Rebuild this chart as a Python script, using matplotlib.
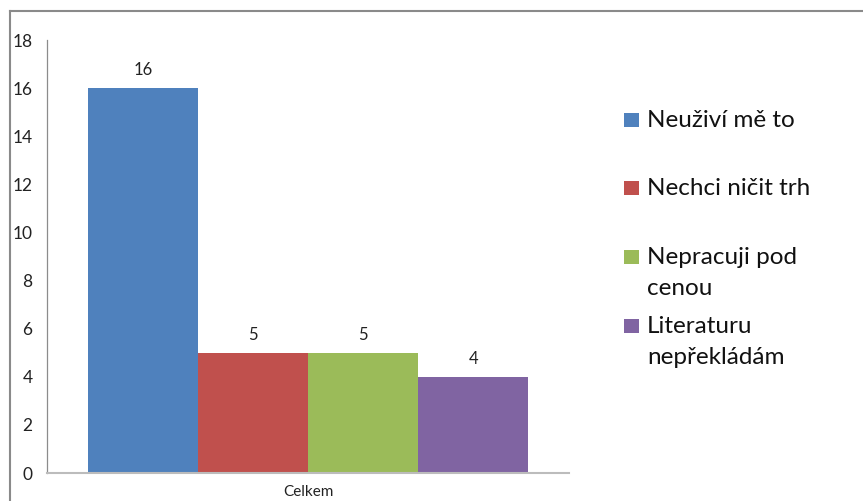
import matplotlib.pyplot as plt
import matplotlib.patches as mpatches
import matplotlib.lines as mlines

plt.rcParams['font.family'] = ['Lato', 'DejaVu Sans']

# data
kategorie = ['Celkem']
odpovedi = ['Neuživí mě to', 'Nechci ničit trh', 'Nepracuji pod\ncenou', 'Literaturu\nnepřekládám']
pocty = [16, 5, 5, 4]
barvy = ['#4F81BD', '#C0504D', '#9BBB59', '#8064A2']
y_ticks = [0, 2, 4, 6, 8, 10, 12, 14, 16, 18]

fig = plt.figure(figsize=(8.63, 5.01), dpi=100)
W, H = 863, 501

# axes: x 47..569 px, y 40..473 px
ax = fig.add_axes([47 / W, 1 - 473 / H, 522 / W, 433 / H])

w = 0.211
for i, (hodnota, barva) in enumerate(zip(pocty, barvy)):
    off = (i - 1.5) * w
    b = ax.bar([0 + off], [hodnota], width=w, color=barva, edgecolor='none')
    ax.bar_label(b, padding=7, fontsize=12, color='#222222')

ax.set_xlim(-0.5, 0.5)
ax.set_ylim(0, 18)
ax.set_yticks(y_ticks)
ax.set_xticks([0])
ax.set_xticklabels(kategorie)
ax.tick_params(axis='y', length=0, pad=10.5, labelsize=12.5, labelcolor='#222222')
ax.tick_params(axis='x', length=0, pad=9, labelsize=11, labelcolor='#222222')
for lbl in ax.get_yticklabels():
    lbl.set_horizontalalignment('right')

for s in ['top', 'right']:
    ax.spines[s].set_visible(False)
ax.spines['left'].set_color('#8c8c8c')
ax.spines['left'].set_linewidth(0.9)
ax.spines['bottom'].set_color('#bcbcbc')
ax.spines['bottom'].set_linewidth(1.5)

# legenda (marker u prvniho radku)
leg_y = [120, 188, 257, 326]
for txt, barva, yy in zip(odpovedi, barvy, leg_y):
    fig.patches.append(mpatches.Rectangle((624 / W, 1 - (yy + 7) / H), 15 / W, 14 / H,
                                          transform=fig.transFigure, facecolor=barva,
                                          edgecolor='none'))
    fig.text(647 / W, 1 - (yy - 10) / H, txt, fontsize=17.5, va='top', ha='left',
             color='#111111', linespacing=1.58)

# ramecek grafu
fig.add_artist(mlines.Line2D([9.5 / W, 9.5 / W], [0, 1 - 10.5 / H], color='#8a8a8a',
                             lw=1.5, transform=fig.transFigure))
fig.add_artist(mlines.Line2D([9.5 / W, 1], [1 - 10.5 / H, 1 - 10.5 / H], color='#8a8a8a',
                             lw=1.5, transform=fig.transFigure))

fig.savefig('out.png', dpi=100)
